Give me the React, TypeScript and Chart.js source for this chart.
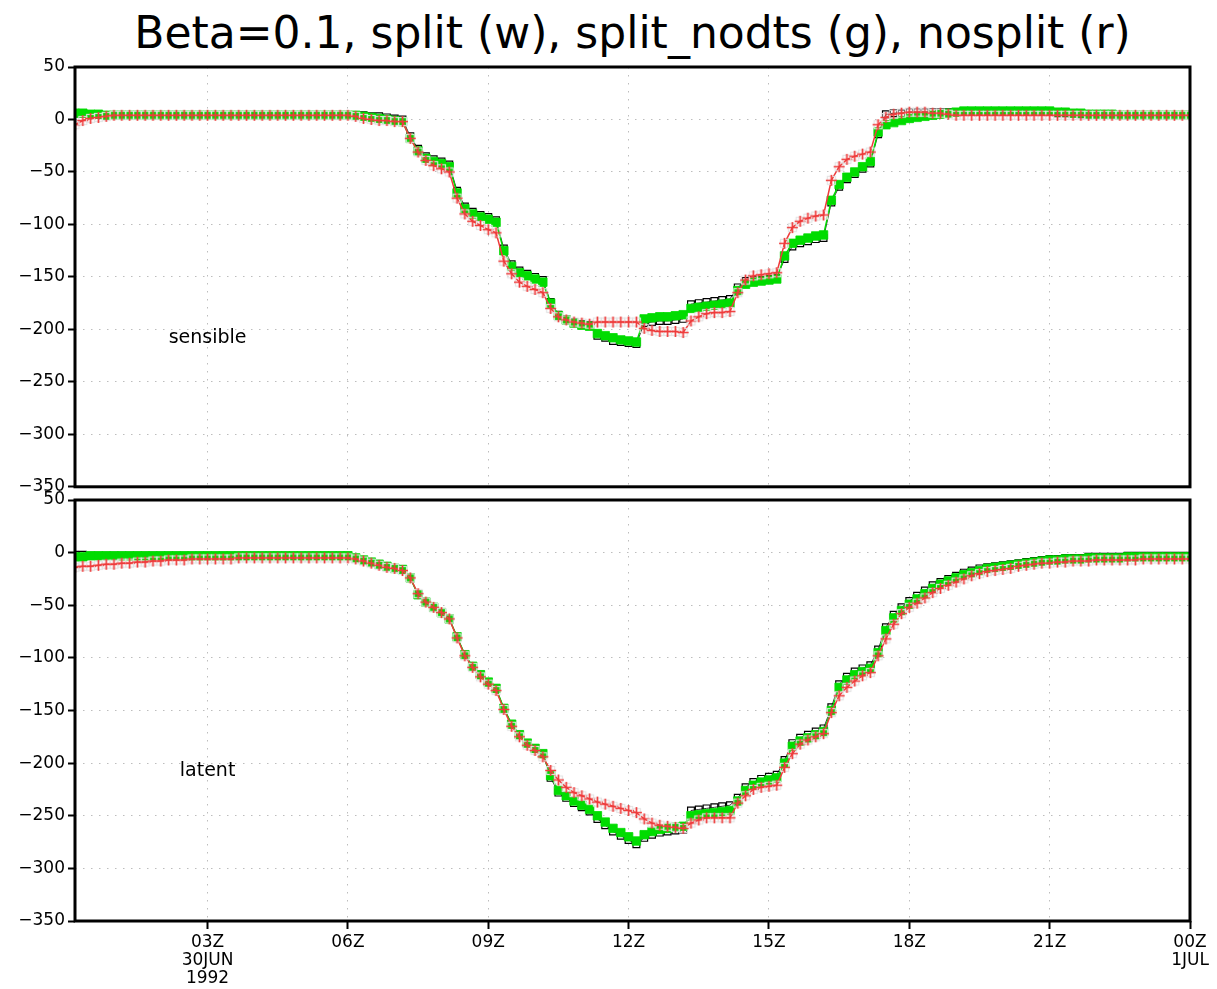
import React, { useEffect, useRef } from "react";
import { Chart, registerables } from "chart.js";

Chart.register(...registerables);

const TITLE = "Beta=0.1, split (w), split_nodts (g), nosplit (r)";

// sampling: every 10 minutes, from 00:10 on 30 JUN to 00:00 on 1 JUL (hours)
const STEP_MINUTES = 10;
const N_POINTS = 144;
const timeHours: number[] = Array.from({ length: N_POINTS }, (_, i) => ((i + 1) * STEP_MINUTES) / 60);

const X_MIN = STEP_MINUTES / 60;
const X_MAX = 24;
const xTickValues = [3, 6, 9, 12, 15, 18, 21, 24];
const xTickLabels: string[][] = [
  ["03Z", "30JUN", "1992"],
  ["06Z"],
  ["09Z"],
  ["12Z"],
  ["15Z"],
  ["18Z"],
  ["21Z"],
  ["00Z", "1JUL"],
];
const yTickValues = [50, 0, -50, -100, -150, -200, -250, -300, -350];

// ---- sensible heat flux (top panel) ----
const sensibleSplit = [
  6, 6, 5, 5, 4, 4,
  4, 4, 4, 4, 4, 4,
  4, 4, 4, 4, 4, 4,
  4, 4, 4, 4, 4, 4,
  4, 4, 4, 4, 4, 4,
  4, 4, 4, 4, 4, 4,
  4, 4, 3, 3, 2, 1,
  0, -16, -28, -35, -38, -40,
  -43, -68, -83, -88, -91, -93,
  -96, -123, -138, -144, -147, -150,
  -153, -174, -186, -190, -193, -195,
  -196, -206, -208, -211, -212, -213,
  -214, -194, -193, -192, -192, -191,
  -190, -176, -175, -174, -173, -172,
  -171, -160, -154, -153, -153, -152,
  -151, -133, -121, -118, -116, -114,
  -113, -79, -64, -57, -52, -47,
  -42, -14, 5, 6, 6, 7,
  7, 7, 7, 7, 7, 7,
  7, 7, 7, 7, 7, 7,
  7, 7, 7, 7, 7, 7,
  6, 6, 6, 5, 5, 5,
  5, 5, 4, 4, 4, 4,
  4, 4, 4, 4, 4, 4,
];

const sensibleNodts = [
  6, 6, 5, 5, 4, 4,
  4, 4, 4, 4, 4, 4,
  4, 4, 4, 4, 4, 4,
  4, 4, 4, 4, 4, 4,
  4, 4, 4, 4, 4, 4,
  4, 4, 4, 4, 4, 4,
  4, 3, 2, 1, 0, -1,
  -2, -18, -30, -37, -40, -42,
  -45, -70, -85, -90, -93, -95,
  -98, -125, -140, -146, -149, -152,
  -155, -175, -187, -191, -194, -196,
  -197, -204, -206, -208, -210, -211,
  -212, -190, -189, -188, -188, -187,
  -186, -180, -179, -178, -177, -176,
  -175, -163, -157, -155, -154, -153,
  -152, -130, -118, -115, -113, -111,
  -110, -77, -62, -55, -50, -45,
  -40, -12, -5, -3, -1, 1,
  2, 3, 4, 5, 6, 7,
  8, 8, 8, 8, 8, 8,
  8, 8, 8, 8, 8, 8,
  7, 7, 6, 6, 5, 5,
  5, 5, 4, 4, 4, 4,
  4, 4, 4, 4, 4, 4,
];

const sensibleNosplit = [
  -5, -1, 1, 2, 3, 4,
  4, 4, 4, 4, 4, 4,
  4, 4, 4, 4, 4, 4,
  4, 4, 4, 4, 4, 4,
  4, 4, 4, 4, 4, 4,
  4, 4, 4, 4, 4, 4,
  3, 1, 0, -1, -1, -2,
  -2, -18, -31, -39, -44, -47,
  -50, -75, -90, -97, -101, -105,
  -108, -135, -147, -155, -159, -162,
  -165, -180, -188, -191, -193, -194,
  -195, -193, -193, -193, -193, -193,
  -193, -199, -201, -202, -202, -202,
  -203, -192, -188, -185, -184, -184,
  -183, -165, -153, -149, -148, -147,
  -146, -118, -103, -97, -94, -92,
  -91, -58, -45, -38, -35, -33,
  -31, -5, 2, 5, 6, 7,
  7, 7, 6, 6, 5, 4,
  4, 4, 4, 4, 4, 4,
  4, 4, 4, 4, 4, 4,
  4, 4, 4, 4, 4, 4,
  4, 4, 4, 4, 4, 4,
  4, 4, 4, 4, 4, 4,
];

// ---- latent heat flux (bottom panel) ----
const latentSplit = [
  -2, -2, -3, -3, -3, -3,
  -3, -3, -3, -3, -3, -3,
  -3, -3, -3, -3, -3, -3,
  -3, -3, -3, -3, -3, -3,
  -3, -3, -3, -3, -3, -3,
  -3, -3, -3, -3, -3, -3,
  -5, -7, -9, -11, -13, -15,
  -16, -24, -40, -47, -52, -57,
  -63, -80, -97, -108, -116, -123,
  -129, -148, -163, -173, -181, -186,
  -191, -214, -228, -233, -238, -242,
  -246, -253, -259, -265, -269, -273,
  -277, -271, -268, -266, -265, -264,
  -263, -245, -244, -243, -242, -241,
  -240, -233, -223, -218, -215, -213,
  -211, -197, -181, -176, -173, -170,
  -167, -147, -125, -118, -113, -110,
  -107, -92, -71, -59, -52, -46,
  -41, -36, -31, -28, -25, -22,
  -19, -17, -15, -14, -13, -12,
  -11, -10, -9, -8, -7, -6,
  -6, -5, -5, -5, -4, -4,
  -4, -4, -4, -3, -3, -3,
  -3, -3, -3, -3, -3, -3,
];

const latentNodts = [
  -4, -4, -3, -3, -3, -3,
  -3, -3, -3, -3, -3, -3,
  -3, -3, -3, -3, -3, -3,
  -3, -3, -3, -3, -3, -3,
  -3, -3, -3, -3, -3, -3,
  -3, -3, -3, -3, -3, -3,
  -5, -7, -9, -11, -13, -15,
  -16, -24, -40, -47, -52, -57,
  -63, -80, -97, -108, -116, -123,
  -129, -148, -163, -173, -181, -186,
  -191, -212, -226, -231, -236, -240,
  -244, -250, -256, -262, -266, -270,
  -274, -268, -265, -263, -262, -261,
  -260, -250, -249, -248, -247, -246,
  -245, -236, -226, -221, -218, -216,
  -214, -200, -184, -179, -176, -173,
  -170, -150, -128, -121, -116, -113,
  -110, -95, -74, -62, -55, -49,
  -44, -39, -34, -30, -27, -24,
  -21, -19, -17, -15, -14, -13,
  -12, -11, -10, -9, -8, -7,
  -7, -6, -6, -6, -5, -5,
  -5, -5, -5, -4, -4, -4,
  -4, -4, -4, -4, -4, -4,
];

const latentNosplit = [
  -14, -13, -13, -12, -11, -11,
  -10, -10, -9, -9, -8, -8,
  -7, -7, -7, -6, -6, -6,
  -6, -6, -6, -5, -5, -5,
  -5, -5, -5, -5, -5, -5,
  -5, -5, -5, -5, -5, -5,
  -6, -8, -10, -12, -14, -15,
  -17, -24, -39, -47, -52, -57,
  -63, -81, -98, -109, -118, -125,
  -131, -149, -165, -175, -183, -188,
  -194, -207, -216, -223, -228, -231,
  -234, -237, -239, -241, -243, -245,
  -247, -253, -257, -259, -260, -261,
  -262, -257, -254, -252, -252, -252,
  -252, -238, -231, -225, -223, -222,
  -221, -204, -191, -182, -178, -175,
  -172, -152, -136, -128, -122, -117,
  -114, -98, -82, -68, -58, -52,
  -48, -43, -38, -34, -31, -28,
  -25, -22, -20, -18, -17, -16,
  -15, -13, -12, -11, -10, -10,
  -9, -9, -8, -8, -8, -7,
  -7, -7, -7, -7, -7, -6,
  -6, -6, -6, -6, -6, -6,
];

const PANEL_LABEL_TIME = 3;
const PANEL_LABEL_VALUE = -208;

const FONT = '"DejaVu Sans", "Liberation Sans", sans-serif';
const RED = "#ee3b3b";
const GREEN = "#00dc00";

function makeCrossMarker(): HTMLCanvasElement {
  const c = document.createElement("canvas");
  c.width = 13;
  c.height = 13;
  const g = c.getContext("2d")!;
  g.strokeStyle = "rgba(228,228,228,0.95)";
  g.lineWidth = 1.2;
  g.strokeRect(2.5, 2.5, 8, 8);
  g.strokeStyle = RED;
  g.lineWidth = 1.7;
  g.beginPath();
  g.moveTo(6.5, 1);
  g.lineTo(6.5, 12);
  g.moveTo(1, 6.5);
  g.lineTo(12, 6.5);
  g.stroke();
  return c;
}

const framePlugin = {
  id: "frame",
  afterDraw(chart: any, _args: any, opts: any) {
    const { ctx, chartArea: a, scales } = chart;
    ctx.save();
    ctx.lineWidth = 3;
    ctx.strokeStyle = "#000";
    ctx.strokeRect(a.left, a.top, a.right - a.left, a.bottom - a.top);
    ctx.fillStyle = "#000";
    ctx.font = `19px ${FONT}`;
    ctx.textAlign = "center";
    ctx.textBaseline = "middle";
    ctx.fillText(opts.text, scales.x.getPixelForValue(opts.x), scales.y.getPixelForValue(opts.y));
    ctx.restore();
  },
};

type PanelProps = {
  split: number[];
  nodts: number[];
  nosplit: number[];
  label: string;
  top: number;
  height: number;
  padTop: number;
  padBottom: number;
  xAxisHeight: number;
  showX: boolean;
};

function Panel(p: PanelProps) {
  const ref = useRef<HTMLCanvasElement | null>(null);
  useEffect(() => {
    if (!ref.current) return;
    const marker = makeCrossMarker();
    const pts = (arr: number[]) => arr.map((v, i) => ({ x: timeHours[i], y: v }));
    const chart = new Chart(ref.current, {
      type: "line",
      data: {
        datasets: [
          {
            label: "nosplit",
            data: pts(p.nosplit),
            borderColor: RED,
            borderWidth: 1.5,
            pointStyle: marker as any,
            pointRadius: 6,
            order: 1,
          },
          {
            label: "split_nodts",
            data: pts(p.nodts),
            borderColor: GREEN,
            borderWidth: 1.5,
            pointStyle: "rect",
            pointRadius: 6,
            pointBackgroundColor: GREEN,
            pointBorderColor: GREEN,
            pointBorderWidth: 0.8,
            order: 2,
          },
          {
            label: "split",
            data: pts(p.split),
            borderColor: "#333",
            borderWidth: 1,
            pointStyle: "rect",
            pointRadius: 4.8,
            pointBackgroundColor: "rgba(0,0,0,0)",
            pointBorderColor: "#000",
            pointBorderWidth: 1.2,
            order: 3,
          },
        ],
      },
      options: {
        animation: false,
        responsive: false,
        events: [],
        layout: { padding: { left: 0, right: 27, top: p.padTop, bottom: p.padBottom } },
        plugins: {
          legend: { display: false },
          tooltip: { enabled: false },
          frame: { text: p.label, x: PANEL_LABEL_TIME, y: PANEL_LABEL_VALUE },
        } as any,
        scales: {
          x: {
            type: "linear",
            min: X_MIN,
            max: X_MAX,
            afterBuildTicks: (s: any) => {
              s.ticks = xTickValues.map((v) => ({ value: v }));
            },
            afterFit: (s: any) => {
              s.height = p.xAxisHeight;
            },
            grid: {
              color: "#bdbdbd",
              lineWidth: 1,
              drawTicks: p.showX,
              tickLength: 8,
              tickColor: "#000",
              tickWidth: 2,
            },
            border: { display: false, dash: [1.5, 6.5] },
            ticks: {
              display: p.showX,
              autoSkip: false,
              maxRotation: 0,
              padding: 5,
              color: "#000",
              font: { family: FONT, size: 17, lineHeight: 1.05 },
              callback: (v: any) => {
                const i = xTickValues.indexOf(Number(v));
                return i >= 0 ? xTickLabels[i] : "";
              },
            },
          },
          y: {
            type: "linear",
            min: -350,
            max: 50,
            afterBuildTicks: (s: any) => {
              s.ticks = yTickValues.map((v) => ({ value: v }));
            },
            afterFit: (s: any) => {
              s.width = 75;
            },
            grid: {
              color: "#bdbdbd",
              lineWidth: 1,
              drawTicks: true,
              tickLength: 7,
              tickColor: "#000",
              tickWidth: 2,
            },
            border: { display: false, dash: [1.5, 6.5] },
            ticks: {
              autoSkip: false,
              padding: 3,
              color: "#000",
              font: { family: FONT, size: 17 },
              callback: (v: any) => {
                const n = Number(v);
                return n < 0 ? "\u2212" + Math.abs(n) : String(n);
              },
            },
          },
        },
      },
      plugins: [framePlugin as any],
    });
    return () => chart.destroy();
  }, []);
  return (
    <canvas
      ref={ref}
      width={1217}
      height={p.height}
      style={{ position: "absolute", left: 0, top: p.top, width: 1217, height: p.height }}
    />
  );
}

export default function App() {
  return (
    <div
      style={{
        position: "fixed",
        left: 0,
        top: 0,
        width: 1217,
        height: 989,
        background: "#fff",
        overflow: "hidden",
      }}
    >
      <div
        style={{
          position: "absolute",
          left: 75,
          width: 1115,
          top: 11,
          textAlign: "center",
          fontFamily: FONT,
          fontSize: 44,
          lineHeight: 1,
          whiteSpace: "nowrap",
          color: "#000",
        }}
      >
        {TITLE}
      </div>
      <Panel
        split={sensibleSplit}
        nodts={sensibleNodts}
        nosplit={sensibleNosplit}
        label="sensible"
        top={0}
        height={500}
        padTop={67}
        padBottom={13}
        xAxisHeight={0}
        showX={false}
      />
      <Panel
        split={latentSplit}
        nodts={latentNodts}
        nosplit={latentNosplit}
        label="latent"
        top={480}
        height={509}
        padTop={20}
        padBottom={0}
        xAxisHeight={68}
        showX={true}
      />
    </div>
  );
}
